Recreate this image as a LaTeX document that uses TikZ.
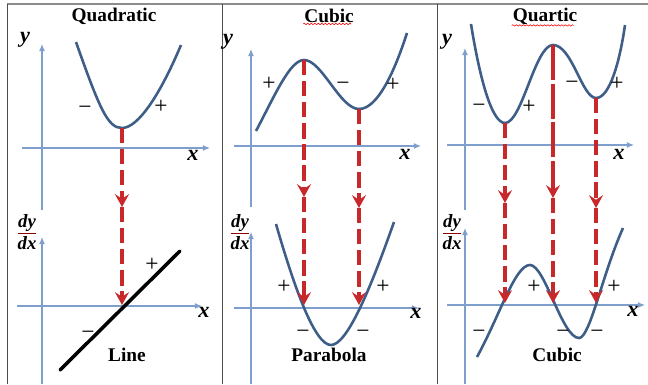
\documentclass[tikz,border=0pt]{standalone}
\usepackage{fontspec}
\setmainfont{Liberation Serif}
\usetikzlibrary{arrows.meta, positioning, decorations.pathmorphing}
\definecolor{curveblue}{HTML}{3E5E88}
\definecolor{axisblue}{HTML}{7E9FCB}
\definecolor{dropred}{HTML}{C8282A}
\definecolor{framegray}{HTML}{8C8C8C}
\begin{document}
\begin{tikzpicture}[x=0.03cm, y=-0.03cm, >=Stealth,
  axis/.style={draw=axisblue, line width=0.9pt, -{Latex[length=6pt, width=5pt]}},
  curve/.style={draw=curveblue, line width=2.2pt},
  drop/.style={draw=dropred, line width=3pt, dash pattern=on 13pt off 5pt,
    -{Stealth[length=11pt, width=12pt, inset=4pt]}},
  title/.style={font=\fontsize{16.5}{18}\selectfont\bfseries},
  varlabel/.style={font=\fontsize{19}{20}\selectfont\bfseries\itshape},
  deriv/.style={font=\fontsize{16}{19}\selectfont\bfseries\itshape, align=center},
  sign/.style={font=\fontsize{20}{22}\selectfont},
  spell/.style={draw=red, line width=0.5pt, decorate,
    decoration={snake, amplitude=0.6pt, segment length=3pt}}]
  \useasboundingbox (0,0) rectangle (648,384);

  % frame
  \draw[framegray, line width=1.2pt] (7,4) -- (648,4);
  \foreach \px in {7,222,437}
    \draw[black!70, line width=0.8pt] (\px,4) -- (\px,384);

  % titles
  \node[title] (quadTitle) at (114,16) {Quadratic};
  \node[title] (cubTitle) at (329,16) {Cubic};
  \node[title] (quarTitle) at (545,16) {Quartic};
  \draw[spell] (cubTitle.south west) ++(3,-3) -- ++(48,0);
  \draw[spell] (quarTitle.south west) ++(3,-3) -- ++(62,0);

  % ---- quadratic ----
  \coordinate (qYtop) at (42,44);   \coordinate (qYbot) at (42,210);
  \coordinate (qXl) at (22,148);    \coordinate (qXr) at (210,148);
  \coordinate (qdYtop) at (42,237); \coordinate (qdYbot) at (42,384);
  \coordinate (qdXl) at (17,306);   \coordinate (qdXr) at (202,306);
  \draw[axis] (qYbot) -- (qYtop);
  \draw[axis] (qXl) -- (qXr);
  \draw[axis] (qdYbot) -- (qdYtop);
  \draw[axis] (qdXl) -- (qdXr);
  \node[varlabel] (qY) at (25,40) {y};
  \node[varlabel] (qX) at (193,155) {x};
  \node[deriv] (qD) at (27,232) {\textcolor{red!55!black}{\underline{\textcolor{black}{dy}}}\\dx};
  \node[varlabel] (qdX) at (204,312) {x};

  \coordinate (qMin) at (122,128);
  \draw[curve] (76,42) .. controls (100,110) and (108,128) .. (qMin)
    .. controls (138,128) and (160,95) .. (181,45);
  \node[sign] at (85,110) {−};
  \node[sign] at (161,107) {+};

  \coordinate (qLineA) at (60,370); \coordinate (qLineB) at (180,251);
  \draw[black, line width=3pt, line cap=round] (qLineA) -- (qLineB);
  \node[sign] at (152,265) {+};
  \node[sign] at (88,335) {−};
  \node[title] (qName) at (127,355) {Line};

  \coordinate (qMid) at (122,207); \coordinate (qFoot) at (122,305);
  \draw[drop] (qMin) -- (qMid);
  \draw[drop] (qMid) -- (qFoot);

  % ---- cubic ----
  \coordinate (cYtop) at (251,49);   \coordinate (cYbot) at (251,207);
  \coordinate (cXl) at (234,146);    \coordinate (cXr) at (421,146);
  \coordinate (cdYtop) at (251,232); \coordinate (cdYbot) at (251,384);
  \coordinate (cdXl) at (234,308);   \coordinate (cdXr) at (419,308);
  \draw[axis] (cYbot) -- (cYtop);
  \draw[axis] (cXl) -- (cXr);
  \draw[axis] (cdYbot) -- (cdYtop);
  \draw[axis] (cdXl) -- (cdXr);
  \node[varlabel] (cY) at (228,42) {y};
  \node[varlabel] (cX) at (405,154) {x};
  \node[deriv] (cD) at (240,232) {\textcolor{red!55!black}{\underline{\textcolor{black}{dy}}}\\dx};
  \node[varlabel] (cdX) at (416,313) {x};

  \coordinate (cMax) at (304,60); \coordinate (cMin) at (359,109);
  \draw[curve] (256,131) .. controls (275,95) and (290,60) .. (cMax)
    .. controls (322,60) and (340,109) .. (cMin)
    .. controls (378,109) and (395,70) .. (407,33);
  \node[sign] at (269,84) {+};
  \node[sign] at (343,86) {−};
  \node[sign] at (393,85) {+};

  \draw[curve] (276,224) .. controls (295,290) and (315,345) .. (331,345)
    .. controls (347,345) and (370,290) .. (394,222);
  \node[sign] at (284,287) {+};
  \node[sign] at (383,287) {+};
  \node[sign] at (303,334) {−};
  \node[sign] at (363,334) {−};
  \node[title] (cName) at (329,355) {Parabola};

  \coordinate (cMidA) at (304,197); \coordinate (cFootA) at (304,305);
  \coordinate (cMidB) at (359,208); \coordinate (cFootB) at (359,305);
  \draw[drop] (cMax) -- (cMidA);
  \draw[drop] (cMidA) -- (cFootA);
  \draw[drop] (cMin) -- (cMidB);
  \draw[drop] (cMidB) -- (cFootB);

  % ---- quartic ----
  \coordinate (rYtop) at (465,48);   \coordinate (rYbot) at (465,210);
  \coordinate (rXl) at (447,145);    \coordinate (rXr) at (634,145);
  \coordinate (rdYtop) at (465,228); \coordinate (rdYbot) at (465,384);
  \coordinate (rdXl) at (447,305);   \coordinate (rdXr) at (645,305);
  \draw[axis] (rYbot) -- (rYtop);
  \draw[axis] (rXl) -- (rXr);
  \draw[axis] (rdYbot) -- (rdYtop);
  \draw[axis] (rdXl) -- (rdXr);
  \node[varlabel] (rY) at (447,42) {y};
  \node[varlabel] (rX) at (619,154) {x};
  \node[deriv] (rD) at (452,232) {\textcolor{red!55!black}{\underline{\textcolor{black}{dy}}}\\dx};
  \node[varlabel] (rdX) at (633,311) {x};

  \coordinate (rMinA) at (505,123); \coordinate (rMax) at (553,45);
  \coordinate (rMinB) at (596,98);
  \draw[curve] (471,24) .. controls (480,80) and (492,123) .. (rMinA)
    .. controls (522,123) and (535,45) .. (rMax)
    .. controls (572,45) and (582,98) .. (rMinB)
    .. controls (610,98) and (620,60) .. (625,25);
  \node[sign] at (479,108) {−};
  \node[sign] at (529,107) {+};
  \node[sign] at (572,85) {−};
  \node[sign] at (617,84) {+};

  \draw[curve] (477,357) .. controls (500,315) and (515,265) .. (530,265)
    .. controls (545,265) and (562,338) .. (579,338)
    .. controls (590,338) and (602,275) .. (623,228);
  \node[sign] at (534,287) {+};
  \node[sign] at (614,287) {+};
  \node[sign] at (479,334) {−};
  \node[sign] at (563,334) {−};
  \node[sign] at (597,334) {−};
  \node[title] (rName) at (557,355) {Cubic};

  \coordinate (rMidA) at (505,203); \coordinate (rFootA) at (505,303);
  \coordinate (rMidB) at (553,198); \coordinate (rFootB) at (553,303);
  \coordinate (rMidC) at (596,208); \coordinate (rFootC) at (596,303);
  \draw[drop] (rMinA) -- (rMidA);
  \draw[drop] (rMidA) -- (rFootA);
  \draw[drop, dash pattern=on 30pt off 3pt] (rMax) -- (rMidB);
  \draw[drop] (rMidB) -- (rFootB);
  \draw[drop] (rMinB) -- (rMidC);
  \draw[drop] (rMidC) -- (rFootC);
\end{tikzpicture}
\end{document}
